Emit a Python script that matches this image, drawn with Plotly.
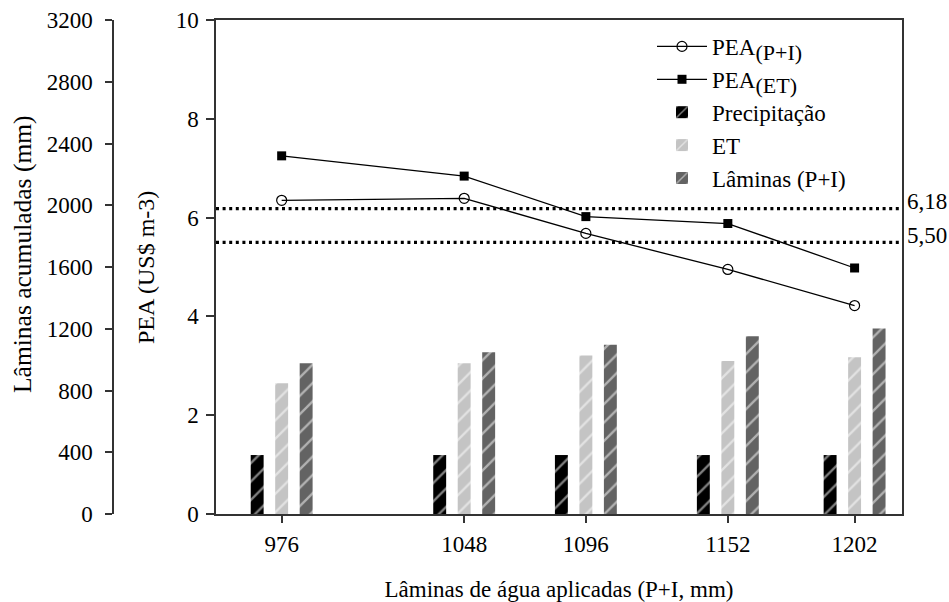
import plotly.graph_objects as go

# ---- data ----
laminas = [976, 1048, 1096, 1152, 1202]            # x categories (P+I, mm)
precipitacao = [382, 382, 382, 382, 382]           # mm
et = [847, 976, 1026, 991, 1015]                   # mm
laminas_pi = [976, 1048, 1096, 1152, 1202]         # mm
pea_pi = [6.35, 6.39, 5.68, 4.95, 4.22]            # US$ m-3
pea_et = [7.25, 6.84, 6.02, 5.88, 4.98]            # US$ m-3
ref_values = [6.18, 5.50]
ref_labels = ["6,18", "5,50"]
mm_ticks = [0, 400, 800, 1200, 1600, 2000, 2400, 2800, 3200]
pea_ticks = [0, 2, 4, 6, 8, 10]

W, H = 949, 602
FONT = "'Liberation Serif', Tinos, 'Times New Roman', Times, serif"
AX = "#333333"
FS = 23

def sub(t):
    return '<sub><span style="font-size:22px">' + t + '</span></sub>'

fig = go.Figure()

fig.add_trace(go.Scatter(
    x=laminas, y=pea_pi, name="PEA" + sub("(P+I)"), yaxis="y",
    mode="lines+markers", line=dict(color="black", width=1.3),
    marker=dict(symbol="circle-open", size=10, color="black", line=dict(width=1.2))))
fig.add_trace(go.Scatter(
    x=laminas, y=pea_et, name="PEA" + sub("(ET)"), yaxis="y",
    mode="lines+markers", line=dict(color="black", width=1.3),
    marker=dict(symbol="square", size=9, color="black")))

bar_w = 5.1
for vals, name, col, off in [
    (precipitacao, "Precipitação", "#000000", -9.66 - bar_w / 2),
    (et, "ET", "#c4c4c4", -bar_w / 2),
    (laminas_pi, "Lâminas (P+I)", "#636363", 9.66 - bar_w / 2),
]:
    fig.add_trace(go.Bar(
        x=laminas, y=vals, name=name, yaxis="y2", width=bar_w, offset=off,
        marker=dict(color=col, line=dict(width=0),
                    pattern=dict(shape="/", fgcolor="white", size=13, solidity=0.18))))

for v, lab in zip(ref_values, ref_labels):
    fig.add_shape(type="line", xref="x domain", x0=0, x1=1, yref="y", y0=v, y1=v,
                  line=dict(color="black", width=3.2, dash="3px,3.6px"))
    fig.add_annotation(x=905 / W, xref="paper", xanchor="left", y=v, yref="y",
                       yshift=7, text=lab, showarrow=False,
                       font=dict(family=FONT, size=FS, color="black"))

# y-axis titles (placed as rotated text beside each axis)
fig.add_annotation(x=22 / W, xref="paper", xanchor="center",
                   y=(514 - 254) / 494, yref="paper", yanchor="middle",
                   text="Lâminas acumuladas (mm)", textangle=-90, showarrow=False,
                   font=dict(family=FONT, size=25.5, color="black"))
fig.add_annotation(x=146 / W, xref="paper", xanchor="center",
                   y=(514 - 268) / 494, yref="paper", yanchor="middle",
                   text="PEA (US$ m-3)", textangle=-90, showarrow=False,
                   font=dict(family=FONT, size=24, color="black"))

fig.update_layout(
    width=W, height=H, paper_bgcolor="white", plot_bgcolor="white",
    margin=dict(l=0, r=0, t=20, b=88),
    font=dict(family=FONT, size=FS, color="black"),
    barmode="overlay", showlegend=True,
    legend=dict(x=652 / W, xanchor="left", y=0.99, yanchor="top",
                bgcolor="rgba(0,0,0,0)", font=dict(family=FONT, size=FS),
                itemwidth=50, tracegroupgap=0),
    xaxis=dict(domain=[216 / W, 902 / W], range=[950.1, 1220.7],
               tickvals=laminas, ticktext=[str(v) for v in laminas],
               ticks="outside", ticklen=7, tickwidth=1.5, tickcolor=AX,
               ticklabelstandoff=2,
               showline=True, linecolor=AX, linewidth=1.5, mirror=True,
               showgrid=False, zeroline=False,
               title=dict(text="Lâminas de água aplicadas (P+I, mm)", standoff=28,
                          font=dict(family=FONT, size=FS))),
    yaxis=dict(range=[0, 10], tickvals=pea_ticks, anchor="x", side="left",
               ticks="outside", ticklen=8, tickwidth=1.5, tickcolor=AX,
               ticklabelstandoff=3,
               showline=True, linecolor=AX, linewidth=1.5, mirror=True,
               showgrid=False, zeroline=False),
    yaxis2=dict(range=[0, 3200], tickvals=mm_ticks, overlaying="y",
                anchor="free", position=113 / W, side="left",
                ticks="outside", ticklen=7, tickwidth=1.5, tickcolor=AX,
                ticklabelstandoff=8,
                showline=True, linecolor=AX, linewidth=1.5,
                showgrid=False, zeroline=False),
)

fig.write_html("out.html", config={"displayModeBar": False},
               post_script="document.body.style.margin='0';document.body.style.overflow='hidden';")
